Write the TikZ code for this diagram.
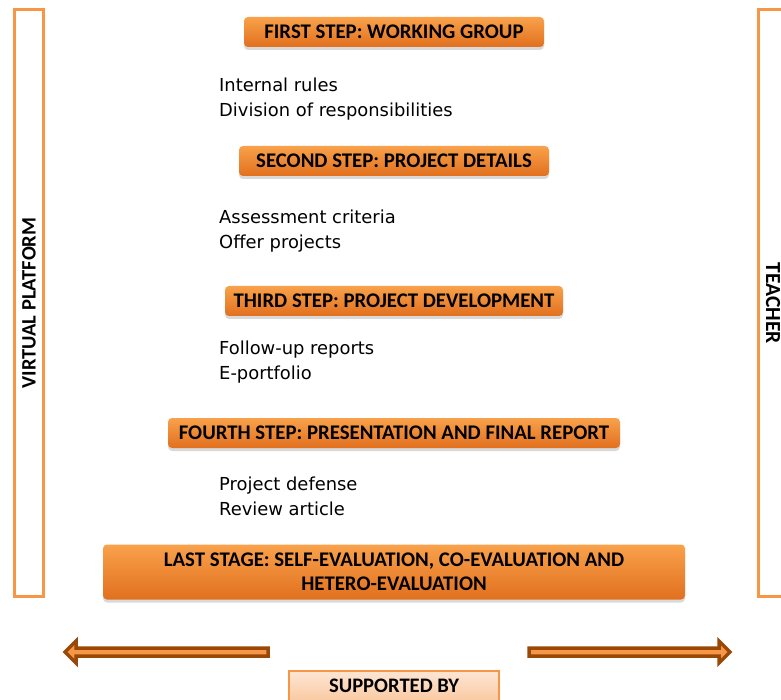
\documentclass[tikz,border=0pt]{standalone}
\usepackage{fontspec}
\setmainfont{Carlito}
\newfontfamily\itemfont{DejaVu Sans}
\usetikzlibrary{shadows,positioning}
\definecolor{stepTop}{HTML}{F9A14B}
\definecolor{stepBot}{HTML}{E1701E}
\definecolor{frameOrange}{HTML}{F79646}
\definecolor{arrowBrown}{HTML}{984807}
\definecolor{supportTop}{HTML}{FDE6D4}
\definecolor{supportBot}{HTML}{FAC9A2}

\begin{document}
\begin{tikzpicture}[x=1pt, y=-1pt,
    stepbox/.style={rounded corners=4pt, top color=stepTop, bottom color=stepBot,
        font=\bfseries\fontsize{20.8}{24}\selectfont, minimum height=30pt, inner xsep=6pt,
        drop shadow={shadow xshift=0pt, shadow yshift=-3pt, opacity=.3}},
    itemtext/.style={anchor=west, align=left, inner sep=0pt,
        font=\itemfont\fontsize{17.9}{25}\selectfont},
    sideframe/.style={draw=frameOrange, line width=3pt, minimum width=587pt,
        minimum height=29pt, font=\bfseries\fontsize{20.5}{22}\selectfont},
    bigarrow/.style={draw=arrowBrown, fill=frameOrange, line width=3.5pt}]
    \useasboundingbox (0,0) rectangle (781,700);
    \pgfmathsetmacro{\midX}{394}  % centre line of the steps
    \pgfmathsetmacro{\itemX}{219} % left edge of the lists

    % side frames
    \node[sideframe, rotate=90] (platform) at (29,303) {VIRTUAL PLATFORM};
    \node[sideframe, rotate=-90, font=\bfseries\fontsize{21.5}{22}\selectfont] (teacher) at (773,303) {TEACHER};

    % steps
    \node[stepbox, minimum width=300pt] (first) at (\midX,32) {FIRST STEP: WORKING GROUP};
    \node[itemtext] (firstItems) at (\itemX,99) {Internal rules\\Division of responsibilities};

    \node[stepbox, minimum width=310pt] (second) at (\midX,161) {SECOND STEP: PROJECT DETAILS};
    \node[itemtext] (secondItems) at (\itemX,231) {Assessment criteria\\Offer projects};

    \node[stepbox, minimum width=338pt] (third) at (\midX,301) {THIRD STEP: PROJECT DEVELOPMENT};
    \node[itemtext] (thirdItems) at (\itemX,362) {Follow-up reports\\E-portfolio};

    \node[stepbox, minimum width=452pt] (fourth) at (\midX,433) {FOURTH STEP: PRESENTATION AND FINAL REPORT};
    \node[itemtext] (fourthItems) at (\itemX,496) {Project defense\\Review article};

    \node[stepbox, align=center, minimum width=582pt, minimum height=55pt] (last) at (\midX,572)
        {LAST STAGE: SELF-EVALUATION, CO-EVALUATION AND\\HETERO-EVALUATION};

    % arrows and bottom label
    \draw[bigarrow] (268,648) -- (76,648) -- (76,641) -- (65,652) -- (76,663) -- (76,656) -- (268,656) -- cycle;
    \draw[bigarrow] (529,648) -- (719,648) -- (719,641) -- (730,652) -- (719,663) -- (719,656) -- (529,656) -- cycle;
    \node[draw=frameOrange, line width=1.5pt, top color=supportTop, bottom color=supportBot,
        minimum width=210pt, minimum height=30pt, font=\bfseries\fontsize{20.6}{22}\selectfont]
        (support) at (\midX,686) {SUPPORTED BY};
\end{tikzpicture}
\end{document}
